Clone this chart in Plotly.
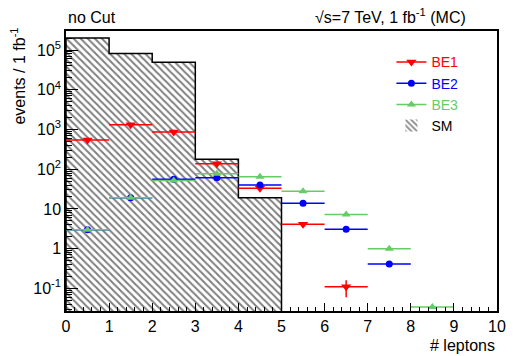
import plotly.graph_objects as go

# Lepton multiplicity bins (width 1, from 0 to 10)
bin_lo = [0, 1, 2, 3, 4, 5, 6, 7, 8, 9]
bin_hi = [1, 2, 3, 4, 5, 6, 7, 8, 9, 10]
bin_center = [0.5, 1.5, 2.5, 3.5, 4.5, 5.5, 6.5, 7.5, 8.5, 9.5]

# Standard-model expectation (events / 1 fb^-1)
sm_events = [2.0e5, 8.2e4, 4.9e4, 178, 19.2, None, None, None, None, None]

# Benchmark signal points
be1_events = [540, 1310, 860, 137, 33, 4.1, 0.11, None, None, None]
be1_err = [0, 0, 0, 0, 0, 0, 0.05, 0, 0, 0]
be2_events = [3.0, 19, 56, 61, 40, 13.9, 3.1, 0.41, None, None]
be2_err = [0, 0, 0, 0, 0, 0, 0, 0.03, 0, 0]
be3_events = [3.0, 19, 52, 77, 65, 28, 7.2, 1.0, 0.034, None]
be3_err = [0, 0, 0, 0, 0, 0, 0, 0, 0, 0]

x_ticks = [0, 1, 2, 3, 4, 5, 6, 7, 8, 9, 10]
y_tickvals = [0.1, 1, 10, 100, 1e3, 1e4, 1e5]
y_ticktext = ["10<sup>-1</sup>", "1", "10", "10<sup>2</sup>", "10<sup>3</sup>",
              "10<sup>4</sup>", "10<sup>5</sup>"]

RED = "#ff0000"
BLUE = "#0000ff"
GREEN = "#66cc66"
FONT = "Liberation Sans, Arial, Helvetica, sans-serif"

fig = go.Figure()

# Hatched SM histogram (fill only)
fig.add_trace(go.Bar(
    x=bin_center, y=sm_events, width=[h - l for l, h in zip(bin_lo, bin_hi)],
    name="SM", legendrank=4,
    marker=dict(color="white",
                pattern=dict(shape="\\", fgcolor="black", bgcolor="white",
                             size=5, solidity=0.4),
                line=dict(width=0)),
))

# Outer step outline of the SM histogram
floor = 1e-4
sx, sy = [bin_lo[0]], [floor]
last_hi = bin_lo[0]
for lo, hi, v in zip(bin_lo, bin_hi, sm_events):
    if v is None:
        continue
    sx += [lo, hi]
    sy += [v, v]
    last_hi = hi
sx.append(last_hi)
sy.append(floor)
fig.add_trace(go.Scatter(x=sx, y=sy, mode="lines", showlegend=False,
                         line=dict(color="black", width=1.5), hoverinfo="skip"))


def add_series(name, vals, errs, color, symbol, size, rank):
    fig.add_trace(go.Scatter(
        x=bin_center, y=vals, mode="markers", showlegend=False,
        marker=dict(color=color, symbol=symbol, size=size),
        error_x=dict(type="constant", value=0.5, color=color, thickness=1.5, width=0),
        error_y=dict(type="data", array=errs, color=color, thickness=1.5, width=0),
    ))
    # legend entry: marker on a short line
    fig.add_trace(go.Scatter(
        x=[None], y=[None], mode="lines+markers", legendrank=rank,
        name=f"<span style='color:{color}'>{name}</span>",
        marker=dict(color=color, symbol=symbol, size=size),
        line=dict(color=color, width=1.5),
    ))


add_series("BE1", be1_events, be1_err, RED, "triangle-down", 9, 1)
add_series("BE2", be2_events, be2_err, BLUE, "circle", 7, 2)
add_series("BE3", be3_events, be3_err, GREEN, "triangle-up", 8, 3)

fig.update_layout(
    width=516, height=356,
    margin=dict(l=66, r=10, t=31, b=45),
    paper_bgcolor="white", plot_bgcolor="white",
    font=dict(family=FONT, size=15, color="black"),
    bargap=0, barmode="overlay",
    showlegend=True,
    legend=dict(x=0.755, y=0.945, xanchor="left", yanchor="top",
                bgcolor="rgba(0,0,0,0)", font=dict(size=14),
                tracegroupgap=0, itemwidth=30),
    xaxis=dict(range=[0, 10], tickvals=x_ticks, ticks="inside", ticklen=8,
               tickcolor="black", showline=True, linecolor="black", linewidth=1.5,
               mirror=True, showgrid=False, zeroline=False,
               minor=dict(dtick=0.2, ticks="inside", ticklen=4, tickcolor="black",
                          showgrid=False),
               tickfont=dict(size=16)),
    yaxis=dict(type="log", range=[-1.57, 5.48], tickvals=y_tickvals,
               ticktext=y_ticktext, ticks="inside", ticklen=12, tickcolor="black",
               showline=True, linecolor="black", linewidth=1.5, mirror=True,
               showgrid=False, zeroline=False,
               minor=dict(dtick="D1", ticks="inside", ticklen=6, tickcolor="black",
                          showgrid=False),
               tickfont=dict(size=16)),
    annotations=[
        dict(text="no Cut", x=0, y=1.01, xref="paper", yref="paper",
             xanchor="left", yanchor="bottom", showarrow=False, font=dict(size=16)),
        dict(text="√s=7 TeV, 1 fb<sup>-1</sup> (MC)", x=0.573, y=1.01,
             xref="paper", yref="paper", xanchor="left", yanchor="bottom",
             showarrow=False, font=dict(size=16)),
        dict(text="events / 1 fb<sup>-1</sup>", x=-0.112, y=0.84, xref="paper",
             yref="paper", xanchor="center", yanchor="middle", textangle=-90,
             showarrow=False, font=dict(size=16)),
        dict(text="# leptons", x=1, y=-0.122, xref="paper", yref="paper",
             xanchor="right", yanchor="middle", showarrow=False, font=dict(size=16)),
    ],
)

fig.write_html("out.html")
